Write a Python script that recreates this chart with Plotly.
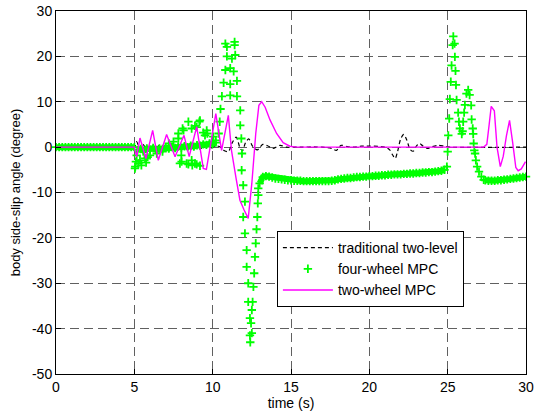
import numpy as np
import plotly.graph_objects as go

# ---------------- data ----------------
# traditional two-level (black dashed)
trad_t = [0, 5.0, 5.15, 5.35, 5.55, 5.8, 6.05, 6.3, 6.6, 6.9, 7.2, 7.5, 7.8, 8.1, 8.4, 8.7,
          9.0, 9.3, 9.6, 9.9, 10.2, 10.5, 10.75, 11.0, 11.25, 11.5, 11.75, 11.9, 12.1, 12.3,
          12.55, 12.85, 13.2, 13.5, 13.85, 14.3, 14.7, 15.2, 17.0, 17.6, 17.9, 18.2, 18.6,
          19.0, 19.5, 21.0, 21.3, 21.5, 21.65, 21.8, 22.0, 22.2, 22.4, 22.6, 22.8, 23.0, 23.2,
          23.4, 23.7, 24.0, 24.4, 24.8, 25.2, 30.0]
trad_v = [0, 0, 1.2, -0.4, 0.6, -0.5, 0.5, -0.4, 0.4, -0.3, 0.4, -0.3, 0.3, -0.3, 0.3, -0.2,
          0.3, -0.3, 0.2, -0.2, 0.3, 0.0, -0.8, -1.0, 1.0, 2.2, -0.2, -0.8, 1.0, 1.8,
          0.2, -0.6, 0.6, 0.3, -0.3, 0.4, 0.0, 0.0, 0.0, -0.3, -0.7, 0.4, 0.1,
          0.0, 0.2, 0.0, -0.6, -1.8, -2.5, -1.0, 1.8, 2.8, 1.5, -0.5, -0.9, 0.2, 0.8,
          0.3, -0.3, 0.1, 0.4, 0.2, 0.0, 0.0]

# two-wheel MPC (magenta)
two_t = [0, 5.0, 5.15, 5.36, 5.74, 6.17, 6.53, 7.06, 7.6, 8.17,
         8.5, 8.98, 9.4, 9.6, 10.2, 10.57, 11.0, 11.2, 11.5, 11.74,
         12.0, 12.27, 12.5, 12.75, 12.95, 13.13, 13.35, 13.66, 14.08, 14.5,
         14.93, 15.3, 27.3, 27.5, 27.65, 27.78, 27.98, 28.15, 28.36, 28.55,
         28.75, 28.95, 29.15, 29.35, 29.5, 29.7, 29.97]
two_v = [0, 0, -2.1, 2.0, -2.5, 3.7, -2.9, 2.8, -2.1, 2.6,
         -2.1, 4.5, -4.7, -4.9, 7.4, -0.7, 7.0, -0.7, -7.0, -11.7,
         -13.8, -15.7, -8.0, 3.0, 9.2, 10.0, 8.8, 6.0, 3.0, 1.0,
         0.2, 0.0, 0.0, 0.6, 5.0, 9.0, 8.0, 0.0, -4.3, -2.0,
         2.5, 5.9, 1.0, -4.5, -5.2, -4.8, -3.2]

# four-wheel MPC (green '+'), dense bands sampled every 0.2 s
four_band_a_start, four_band_a_v = 0.0, [0.0, 0.0, 0.0, 0.0, 0.0, 0.0, 0.0, 0.0, 0.0, 0.0, 0.0, 0.0, 0.0,
                                         0.0, 0.0, 0.0, 0.0, 0.0, 0.0, 0.0, 0.0, 0.0, 0.0, 0.0, 0.0, 0.0]
four_band_b_start, four_band_b_v = 5.2, [-0.6, -0.4, -0.8, -0.3, -0.5, -0.2, -0.6, -0.3, -0.4, -0.1,
                                         -0.3, 0.0, -0.2, 0.1, -0.1, 0.2, 0.0, 0.3, 0.1, 0.4,
                                         0.3, 0.6, 0.5, 0.8, 0.7, 1.0]
four_band_c_start, four_band_c_v = 13.0, [-8.0, -6.6, -6.4, -6.5, -6.7, -6.9, -7.0, -7.1, -7.2, -7.3,
                                          -7.3, -7.4, -7.4, -7.4, -7.5, -7.5, -7.5, -7.5, -7.5, -7.5,
                                          -7.5, -7.5, -7.5, -7.4, -7.3, -7.1, -7.0, -6.9, -6.8, -6.8,
                                          -6.7, -6.6, -6.6, -6.5, -6.5, -6.4, -6.4, -6.3, -6.3, -6.2,
                                          -6.2, -6.1, -6.1, -6.0, -6.0, -6.0, -5.9, -5.9, -5.8, -5.8,
                                          -5.7, -5.7, -5.6, -5.6, -5.5, -5.5, -5.4, -5.3, -5.2, -5.0]
four_band_d_start, four_band_d_v = 27.4, [-7.3, -7.4, -7.4, -7.4, -7.3, -7.3, -7.2, -7.1, -7.0, -6.9,
                                          -6.8, -6.7, -6.6, -6.5]
four_band_step = 0.2

four_scatter = [(5.04, -4.7), (5.06, -4.3), (5.1, -3.2), (5.15, -1.8), (5.25, -3.6), (5.36, -2.9),
                (5.45, -4.0), (5.57, -1.0), (5.68, -2.5), (5.75, -3.4), (5.85, -2.2), (6.0, -1.8),
                (6.43, -1.4), (6.8, -1.0), (7.2, 0.8), (7.5, 1.2), (7.81, 1.9), (7.81, 3.0),
                (7.91, -3.6), (8.0, -1.8), (8.02, -3.2), (8.08, 4.1), (8.14, 3.7), (8.34, -3.6),
                (8.45, 5.6), (8.45, -3.8), (8.66, 4.1), (8.66, -2.9), (8.7, -4.0), (8.87, 4.7),
                (8.87, -3.6), (8.98, 4.4), (8.98, -3.8), (9.15, 5.6), (9.19, 5.9), (9.19, -4.1),
                (9.4, 3.2), (9.51, 2.6), (9.62, 3.7), (9.66, 3.0), (10.04, 2.3), (10.2, 1.5)]

four_spike1 = [(10.38, 3.0), (10.45, 5.6), (10.5, 8.4), (10.59, 11.2), (10.7, 14.2), (10.81, 17.0),
               (10.91, 20.0), (10.91, 22.1), (10.81, 22.8), (11.12, 17.4), (11.12, 13.9),
               (11.12, 11.4), (11.23, 19.5), (11.34, 16.7), (11.40, 23.2), (11.40, 22.5),
               (11.44, 20.3), (11.55, 14.6), (11.55, 11.2), (11.76, 8.1), (11.76, 4.8),
               (11.83, 1.9), (11.87, -1.4), (11.85, -5.1), (11.95, -8.4), (12.06, -12.0),
               (11.95, -15.4), (12.06, -19.0), (12.17, -22.7), (12.17, -26.4), (12.27, -30.0),
               (12.27, -34.1), (12.38, -37.7), (12.38, -41.5), (12.40, -43.0), (12.5, -41.0),
               (12.45, -38.8), (12.5, -35.9), (12.55, -34.1), (12.6, -30.8), (12.65, -27.8),
               (12.7, -24.2), (12.75, -21.2), (12.8, -18.1), (12.85, -15.4), (12.88, -12.4),
               (12.91, -10.6), (12.91, -9.1)]

four_spike2 = [(24.95, -4.3), (25.0, -1.0), (25.04, 2.6), (25.1, 6.3), (25.14, 10.6), (25.2, 14.4),
               (25.25, 18.0), (25.32, 22.5), (25.36, 24.4), (25.44, 22.8), (25.46, 19.9),
               (25.5, 16.8), (25.53, 13.7), (25.57, 10.4), (25.67, 7.6), (25.72, 5.6),
               (25.78, 4.1), (25.9, 2.9), (25.95, 3.5), (25.99, 5.6), (26.05, 7.6), (26.1, 9.3),
               (26.2, 11.8), (26.31, 12.6), (26.4, 11.5), (26.5, 9.2), (26.53, 6.1), (26.6, 4.1),
               (26.63, 2.9), (26.66, 0.8), (26.7, -0.7), (26.75, -1.4), (26.8, -2.9),
               (26.88, -4.3), (27.0, -5.4), (27.15, -6.5), (27.3, -7.2)]

x_ticks = [0, 5, 10, 15, 20, 25, 30]
x_tick_text = ["0", "5", "10", "15", "20", "25", "30"]
y_ticks = [-50, -40, -30, -20, -10, 0, 10, 20, 30]
y_tick_text = ["-50", "-40", "-30", "-20", "-10", "0", "10", "20", "30"]

# ---------------- assemble green series ----------------
def band(start, vals):
    t = np.round(start + four_band_step * np.arange(len(vals)), 3)
    return list(t), list(vals)

bands = [band(four_band_a_start, four_band_a_v), band(four_band_b_start, four_band_b_v),
         band(four_band_c_start, four_band_c_v), band(four_band_d_start, four_band_d_v)]

four_t, four_v = [], []
for bt, bv in bands:
    four_t += bt
    four_v += bv
for pts in (four_scatter, four_spike1, four_spike2):
    four_t += [p[0] for p in pts]
    four_v += [p[1] for p in pts]

FONT = "Liberation Sans, Arial, sans-serif"
GREEN = "#00FF00"

fig = go.Figure()
fig.add_trace(go.Scatter(
    x=trad_t, y=trad_v, mode="lines", name="traditional two-level",
    line=dict(color="black", width=1.2, dash="4px,3px", shape="spline", smoothing=0.8),
))
# solid core of the densely overlapping '+' markers in the quasi-steady bands
for bt, bv in bands:
    fig.add_trace(go.Scatter(
        x=bt, y=bv, mode="lines", showlegend=False, hoverinfo="skip", cliponaxis=False,
        line=dict(color=GREEN, width=6),
    ))
fig.add_trace(go.Scatter(
    x=four_t, y=four_v, mode="markers", name="four-wheel MPC", cliponaxis=False,
    marker=dict(symbol="cross-thin", size=6, color=GREEN,
                line=dict(color=GREEN, width=1.8)),
))
fig.add_trace(go.Scatter(
    x=two_t, y=two_v, mode="lines", name="two-wheel MPC",
    line=dict(color="#FF00FF", width=1.4),
))

axis_common = dict(
    showline=True, linecolor="black", linewidth=1, mirror=True,
    ticks="inside", ticklen=5, tickcolor="black", tickwidth=1,
    showgrid=True, gridcolor="#606060", gridwidth=1, griddash="9px,5px",
    zeroline=False, automargin=False,
    tickfont=dict(family=FONT, size=14, color="black"),
)
fig.update_xaxes(range=[0, 30], tickvals=x_ticks, ticktext=x_tick_text,
                 title=dict(text="time (s)", font=dict(family=FONT, size=14, color="black"), standoff=3),
                 **axis_common)
fig.update_yaxes(range=[-50, 30], tickvals=y_ticks, ticktext=y_tick_text,
                 title=dict(text="body side-slip angle (degree)", font=dict(family=FONT, size=13, color="black"), standoff=8),
                 **axis_common)

fig.update_layout(
    width=536, height=417,
    margin=dict(l=56, r=10, t=11, b=43, pad=0, autoexpand=False),
    paper_bgcolor="white", plot_bgcolor="white",
    font=dict(family=FONT, size=14, color="black"),
    legend=dict(x=0.47, y=0.394, xanchor="left", yanchor="top",
                bgcolor="white", bordercolor="black", borderwidth=1,
                font=dict(family=FONT, size=14, color="black"),
                itemwidth=50, tracegroupgap=0),
    showlegend=True,
)

fig.write_html("out.html")
